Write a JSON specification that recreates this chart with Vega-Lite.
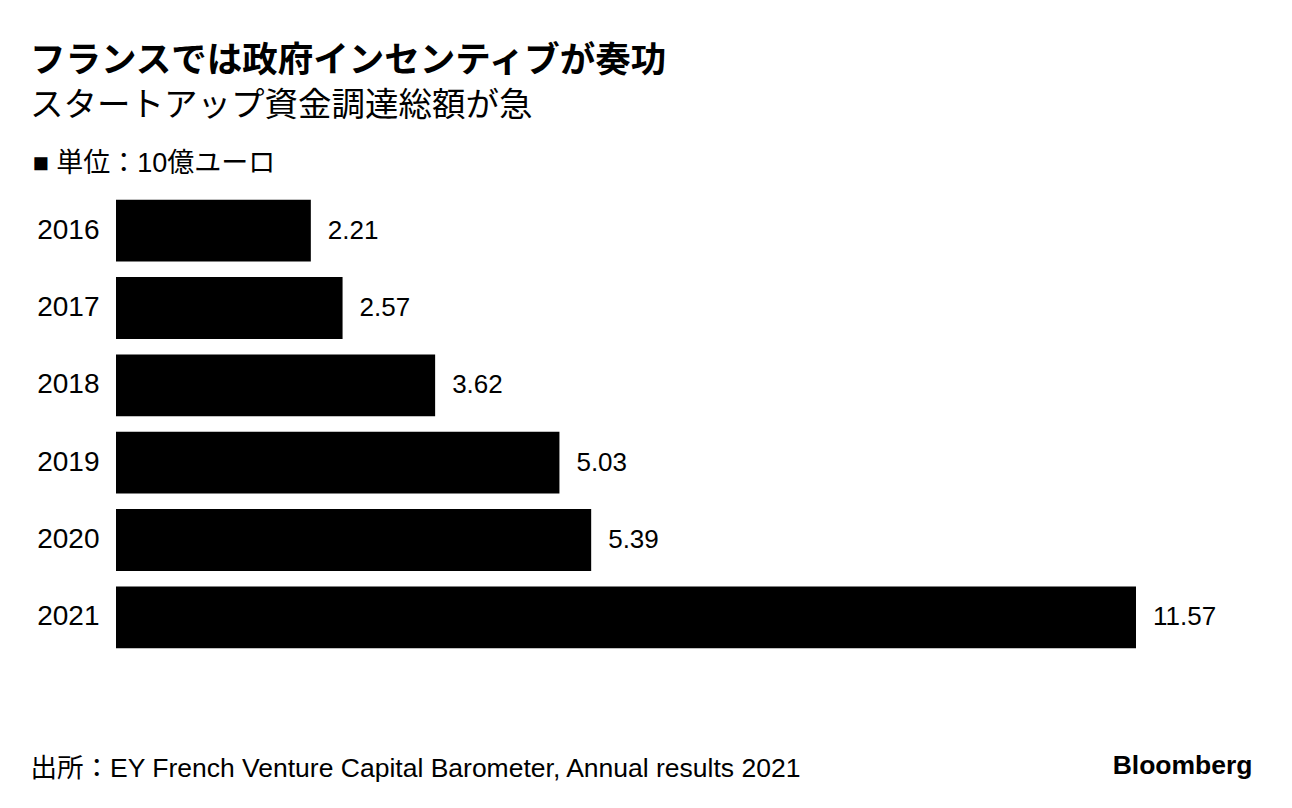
{
  "$schema": "https://vega.github.io/schema/vega-lite/v6.json",
  "width": 1020,
  "height": 464,
  "autosize": {"type": "none"},
  "padding": {"left": 116, "top": 192, "right": 156, "bottom": 152},
  "background": "white",
  "config": {
    "view": {"stroke": null},
    "font": "Liberation Sans, Noto Sans CJK JP, sans-serif"
  },
  "title": {
    "text": "フランスでは政府インセンティブが奏功",
    "subtitle": "スタートアップ資金調達総額が急",
    "anchor": "start",
    "frame": "group",
    "dx": -86,
    "offset": 27,
    "font": "Noto Sans CJK JP, sans-serif",
    "fontSize": 35.5,
    "fontWeight": "bold",
    "color": "#000",
    "subtitleFont": "Noto Sans CJK JP, sans-serif",
    "subtitleFontSize": 33.5,
    "subtitleColor": "#000",
    "subtitlePadding": 10
  },
  "data": {
    "values": [
      {"year": "2016", "value": 2.21},
      {"year": "2017", "value": 2.57},
      {"year": "2018", "value": 3.62},
      {"year": "2019", "value": 5.03},
      {"year": "2020", "value": 5.39},
      {"year": "2021", "value": 11.57}
    ]
  },
  "resolve": {"axis": {"x": "independent"}},
  "layer": [
    {
      "mark": {"type": "bar", "color": "#000"},
      "encoding": {
        "y": {
          "field": "year",
          "type": "nominal",
          "sort": "ascending",
          "scale": {"paddingInner": 0.2, "paddingOuter": 0.1},
          "axis": {
            "title": "■ 単位：10億ユーロ",
            "titleAngle": 0,
            "titleAlign": "left",
            "titleBaseline": "middle",
            "titleX": -84,
            "titleY": -29,
            "titleFont": "Liberation Sans, Noto Sans CJK JP, sans-serif",
            "titleFontSize": 27,
            "titleFontWeight": "normal",
            "titleColor": "#000",
            "domain": false,
            "ticks": false,
            "labelPadding": 17,
            "labelFontSize": 28,
            "labelColor": "#000"
          }
        },
        "x": {
          "field": "value",
          "type": "quantitative",
          "scale": {"domain": [0, 11.57], "nice": false},
          "axis": {
            "orient": "bottom",
            "title": "出所：EY French Venture Capital Barometer, Annual results 2021",
            "titleAlign": "left",
            "titleAnchor": null,
            "titleBaseline": "middle",
            "titleX": -86,
            "titleY": 112,
            "titleFont": "Liberation Sans, Noto Sans CJK JP, sans-serif",
            "titleFontSize": 26.5,
            "titleFontWeight": "normal",
            "titleColor": "#000",
            "labels": false,
            "ticks": false,
            "domain": false,
            "grid": false
          }
        }
      }
    },
    {
      "mark": {"type": "text", "align": "left", "baseline": "middle", "dx": 17, "fontSize": 26, "color": "#000"},
      "encoding": {
        "y": {"field": "year", "type": "nominal", "sort": "ascending"},
        "x": {
          "field": "value",
          "type": "quantitative",
          "axis": {
            "orient": "top",
            "title": "Bloomberg",
            "titleAlign": "right",
            "titleAnchor": null,
            "titleBaseline": "middle",
            "titleX": 1136,
            "titleY": 573,
            "titleFont": "Liberation Sans, sans-serif",
            "titleFontSize": 26.5,
            "titleFontWeight": "bold",
            "titleColor": "#000",
            "labels": false,
            "ticks": false,
            "domain": false,
            "grid": false
          }
        },
        "text": {"field": "value", "type": "quantitative", "format": ".2f"}
      }
    }
  ]
}
